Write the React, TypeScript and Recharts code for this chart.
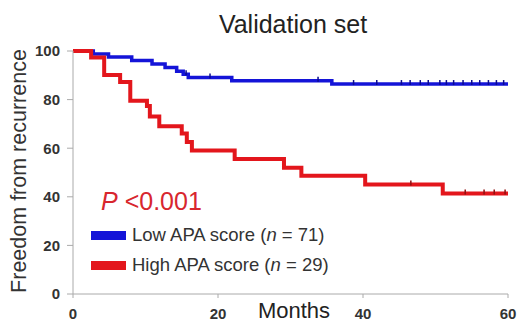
import { ComposedChart, Line, Scatter, XAxis, YAxis } from 'recharts';

const lowMonths = [0, 2.8, 4.9, 8.1, 10.9, 12.7, 14.3, 15.2, 15.9, 21.9, 35.7, 60];
const lowValues = [100, 98.8, 97.5, 96.1, 94.7, 93.2, 91.7, 90.4, 89.1, 87.8, 86.4, 86.4];
const lowCensored = [
  15.6, 18.9, 33.8, 38.7, 41.9, 45.3, 46.5, 47.9, 49, 50.6, 51.5, 52.5, 53.8,
  55, 56.1, 57.3, 58.4, 59.4,
];

const highMonths = [
  0, 2.5, 4.3, 6.5, 7.9, 10.2, 10.6, 11.9, 15.0, 15.7, 16.4, 22.3, 29.1, 31.5,
  40.3, 51.0, 60,
];
const highValues = [
  100, 97.3, 90.1, 87.2, 79.5, 77.4, 73.0, 69.0, 66.0, 62.6, 59.1, 55.6, 52.0,
  48.7, 45.1, 41.4, 41.4,
];
const highCensored = [46.6, 54.1, 56.7, 58.1, 59.6];

const xTicks = [0, 20, 40, 60];
const yTicks = [0, 20, 40, 60, 80, 100];

const BLUE = '#1414d8';
const RED = '#e3161c';

// survival level at a censoring time
function levelAt(months: number[], values: number[], t: number) {
  let v = values[0];
  for (let i = 0; i < months.length; i++) {
    if (months[i] <= t) v = values[i];
  }
  return v;
}

const lowData = lowMonths.map((m, i) => ({ month: m, value: lowValues[i] }));
const highData = highMonths.map((m, i) => ({ month: m, value: highValues[i] }));
const lowCensorData = lowCensored.map((m) => ({
  month: m,
  value: levelAt(lowMonths, lowValues, m),
}));
const highCensorData = highCensored.map((m) => ({
  month: m,
  value: levelAt(highMonths, highValues, m),
}));

const legendItems = [
  { label: 'Low APA score', n: 71, color: BLUE },
  { label: 'High APA score', n: 29, color: RED },
];

function CensorMark(props: any) {
  const { cx, cy, fill } = props;
  if (cx == null || cy == null) return null;
  return <line x1={cx} x2={cx} y1={cy - 4} y2={cy + 1} stroke={fill} strokeWidth={1.5} />;
}

const font = 'Arial, "Liberation Sans", sans-serif';

function LegendBox() {
  return (
    <div style={{ position: 'absolute', left: 91, top: 220, fontFamily: font }}>
      {legendItems.map((item) => (
        <div
          key={item.label}
          style={{ display: 'flex', alignItems: 'center', height: 30, color: '#333' }}
        >
          <span
            style={{
              display: 'inline-block',
              width: 35,
              height: 9,
              background: item.color,
              marginRight: 6,
            }}
          />
          <span style={{ fontSize: 18.5 }}>
            {item.label} (<i>n</i> = {item.n})
          </span>
        </div>
      ))}
    </div>
  );
}

export default function App() {
  return (
    <div style={{ position: 'absolute', left: 0, top: 0, width: 518, height: 327, background: '#fff' }}>
      <ComposedChart
        width={518}
        height={327}
        margin={{ top: 51, right: 10, bottom: 0, left: 13 }}
      >
        <XAxis
          dataKey="month"
          type="number"
          domain={[0, 60]}
          ticks={xTicks}
          interval={0}
          height={33}
          tickSize={4}
          tickMargin={10}
          stroke="#aaa"
          tick={{ fontSize: 15, fill: '#333', fontWeight: 600, fontFamily: font }}
          allowDuplicatedCategory={false}
        />
        <YAxis
          type="number"
          domain={[0, 100]}
          ticks={yTicks}
          interval={0}
          width={60}
          tickSize={6}
          tickMargin={7}
          stroke="#aaa"
          tick={{ fontSize: 15, fill: '#333', fontWeight: 600, fontFamily: font }}
        />
        <Line
          data={lowData}
          dataKey="value"
          type="stepAfter"
          stroke={BLUE}
          strokeWidth={3.5}
          dot={false}
          isAnimationActive={false}
        />
        <Line
          data={highData}
          dataKey="value"
          type="stepAfter"
          stroke={RED}
          strokeWidth={4}
          dot={false}
          isAnimationActive={false}
        />
        <Scatter
          data={lowCensorData}
          dataKey="value"
          fill="#0a0a90"
          shape={<CensorMark />}
          isAnimationActive={false}
        />
        <Scatter
          data={highCensorData}
          dataKey="value"
          fill="#901010"
          shape={<CensorMark />}
          isAnimationActive={false}
        />
      </ComposedChart>
      <LegendBox />
      <svg
        width={518}
        height={327}
        style={{ position: 'absolute', left: 0, top: 0, pointerEvents: 'none' }}
        fontFamily={font}
      >
        <text x={293} y={33} textAnchor="middle" fontSize={25} fill="#222">
          Validation set
        </text>
        <text
          transform="translate(26,171) rotate(-90)"
          textAnchor="middle"
          fontSize={21.5}
          fill="#333"
        >
          Freedom from recurrence
        </text>
        <text x={294} y={318} textAnchor="middle" fontSize={22} fill="#222">
          Months
        </text>
        <text x={101} y={210} fontSize={25} fill="#d8262e">
          <tspan fontStyle="italic">P</tspan> &lt;0.001
        </text>
      </svg>
    </div>
  );
}
